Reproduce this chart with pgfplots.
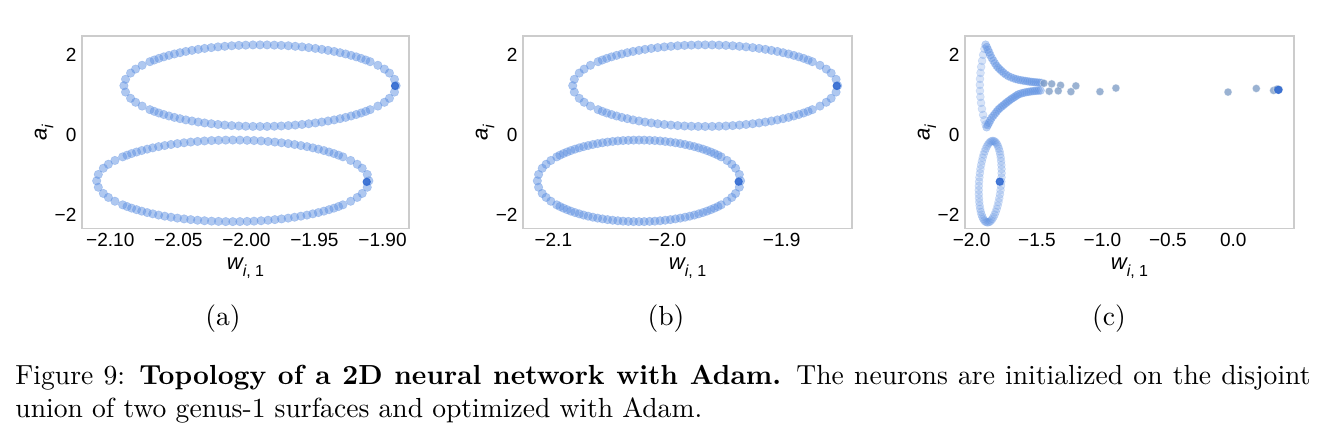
\documentclass[border=0pt]{standalone}
\usepackage{fontspec}
\usepackage{pgfplots}
\pgfplotsset{compat=1.18}
\usetikzlibrary{calc}
\newfontfamily\arial{Liberation Sans}
\definecolor{ringblue}{RGB}{95,145,225}
\definecolor{hiblue}{RGB}{55,110,210}
\definecolor{tailblue}{RGB}{120,152,195}
\newcommand{\wlab}{{\arial\fontsize{8}{9}\selectfont\itshape w\raisebox{-0.3em}{\fontsize{5.8}{6}\selectfont i\upshape, 1}}}
\newcommand{\alab}{{\arial\fontsize{8}{9}\selectfont\itshape a\raisebox{-0.3em}{\fontsize{5.8}{6}\selectfont i}}}
\pgfplotsset{
 panel/.style={
  scale only axis, height=69.9pt, anchor=north west,
  ymin=-2.35, ymax=2.475,
  ytick={-2,0,2}, yticklabels={−2,0,2},
  major tick length=0pt,
  axis line style={draw=black!20, line width=0.45pt},
  tick label style={font=\arial\fontsize{6.9}{8}\selectfont, inner sep=0pt},
  xticklabel style={anchor=north, yshift=-1.4pt},
  yticklabel style={anchor=east, xshift=-1.8pt},
  xlabel={\wlab}, ylabel={\alab},
  xlabel style={at={($(axis description cs:0.5,0)+(0,-10.3pt)$)}, anchor=north, inner sep=0pt},
  ylabel style={at={($(axis description cs:0,0.5)+(-12.8pt,0)$)}, anchor=base, inner sep=0pt},
 },
 ring/.style={only marks, mark=*, mark size=1.55pt, mark options={fill=ringblue, fill opacity=0.5, draw=ringblue, draw opacity=0.35, line width=0.2pt}},
 ringlight/.style={only marks, mark=*, mark size=1.45pt, mark options={fill=ringblue, fill opacity=0.25, draw=ringblue, draw opacity=0.2, line width=0.2pt}},
 ringmid/.style={only marks, mark=*, mark size=1.45pt, mark options={fill=ringblue, fill opacity=0.4, draw=ringblue, draw opacity=0.3, line width=0.2pt}},
 tail/.style={only marks, mark=*, mark size=1.45pt, mark options={fill=tailblue, fill opacity=0.75, draw=white, draw opacity=0.5, line width=0.2pt}},
 hi/.style={only marks, mark=*, mark size=1.3pt, mark options={fill=hiblue, draw=hiblue, fill opacity=0.9, draw opacity=0.9}},
}
\begin{document}
\begin{tikzpicture}
\path[use as bounding box] (0,0) rectangle (481.5pt,-156.5pt);

% ---------------- (a)
\begin{axis}[panel, at={(29.7pt,-13pt)}, width=118.5pt,
  xmin=-2.1208, xmax=-1.8805,
  xtick={-2.10,-2.05,-2.00,-1.95,-1.90}, xticklabels={−2.10,−2.05,−2.00,−1.95,−1.90}]
\addplot[ring] coordinates {
(-1.8900,1.230) (-2.0900,1.230)
(-1.8912,1.390) (-2.0888,1.390) (-2.0888,1.070) (-1.8912,1.070)
(-1.8949,1.545) (-2.0851,1.545) (-2.0851,0.915) (-1.8949,0.915)
(-1.8986,1.645) (-2.0814,1.645) (-2.0814,0.815) (-1.8986,0.815)
(-1.9034,1.740) (-2.0766,1.740) (-2.0766,0.720) (-1.9034,0.720)
(-1.9091,1.830) (-2.0709,1.830) (-2.0709,0.630) (-1.9091,0.630)
(-1.9123,1.872) (-2.0677,1.872) (-2.0677,0.588) (-1.9123,0.588)
(-1.9157,1.913) (-2.0643,1.913) (-2.0643,0.547) (-1.9157,0.547)
(-1.9193,1.951) (-2.0607,1.951) (-2.0607,0.509) (-1.9193,0.509)
(-1.9231,1.988) (-2.0569,1.988) (-2.0569,0.472) (-1.9231,0.472)
(-1.9271,2.023) (-2.0529,2.023) (-2.0529,0.437) (-1.9271,0.437)
(-1.9312,2.055) (-2.0488,2.055) (-2.0488,0.405) (-1.9312,0.405)
(-1.9355,2.086) (-2.0445,2.086) (-2.0445,0.374) (-1.9355,0.374)
(-1.9400,2.113) (-2.0400,2.113) (-2.0400,0.347) (-1.9400,0.347)
(-1.9446,2.139) (-2.0354,2.139) (-2.0354,0.321) (-1.9446,0.321)
(-1.9493,2.162) (-2.0307,2.162) (-2.0307,0.298) (-1.9493,0.298)
(-1.9542,2.182) (-2.0258,2.182) (-2.0258,0.278) (-1.9542,0.278)
(-1.9591,2.200) (-2.0209,2.200) (-2.0209,0.260) (-1.9591,0.260)
(-1.9641,2.215) (-2.0159,2.215) (-2.0159,0.245) (-1.9641,0.245)
(-1.9692,2.228) (-2.0108,2.228) (-2.0108,0.232) (-1.9692,0.232)
(-1.9744,2.238) (-2.0056,2.238) (-2.0056,0.222) (-1.9744,0.222)
(-1.9795,2.244) (-2.0005,2.244) (-2.0005,0.216) (-1.9795,0.216)
(-1.9848,2.249) (-1.9952,2.249) (-1.9952,0.211) (-1.9848,0.211)
(-1.9900,2.250) (-1.9900,0.210)
};
\addplot[ring] coordinates {
(-1.9100,-1.150) (-2.1100,-1.150)
(-1.9112,-0.990) (-2.1088,-0.990) (-2.1088,-1.310) (-1.9112,-1.310)
(-1.9149,-0.835) (-2.1051,-0.835) (-2.1051,-1.465) (-1.9149,-1.465)
(-1.9186,-0.735) (-2.1014,-0.735) (-2.1014,-1.565) (-1.9186,-1.565)
(-1.9234,-0.640) (-2.0966,-0.640) (-2.0966,-1.660) (-1.9234,-1.660)
(-1.9291,-0.550) (-2.0909,-0.550) (-2.0909,-1.750) (-1.9291,-1.750)
(-1.9323,-0.508) (-2.0877,-0.508) (-2.0877,-1.792) (-1.9323,-1.792)
(-1.9357,-0.467) (-2.0843,-0.467) (-2.0843,-1.833) (-1.9357,-1.833)
(-1.9393,-0.429) (-2.0807,-0.429) (-2.0807,-1.871) (-1.9393,-1.871)
(-1.9431,-0.392) (-2.0769,-0.392) (-2.0769,-1.908) (-1.9431,-1.908)
(-1.9471,-0.357) (-2.0729,-0.357) (-2.0729,-1.943) (-1.9471,-1.943)
(-1.9512,-0.325) (-2.0688,-0.325) (-2.0688,-1.975) (-1.9512,-1.975)
(-1.9555,-0.294) (-2.0645,-0.294) (-2.0645,-2.006) (-1.9555,-2.006)
(-1.9600,-0.267) (-2.0600,-0.267) (-2.0600,-2.033) (-1.9600,-2.033)
(-1.9646,-0.241) (-2.0554,-0.241) (-2.0554,-2.059) (-1.9646,-2.059)
(-1.9693,-0.218) (-2.0507,-0.218) (-2.0507,-2.082) (-1.9693,-2.082)
(-1.9742,-0.198) (-2.0458,-0.198) (-2.0458,-2.102) (-1.9742,-2.102)
(-1.9791,-0.180) (-2.0409,-0.180) (-2.0409,-2.120) (-1.9791,-2.120)
(-1.9841,-0.165) (-2.0359,-0.165) (-2.0359,-2.135) (-1.9841,-2.135)
(-1.9892,-0.152) (-2.0308,-0.152) (-2.0308,-2.148) (-1.9892,-2.148)
(-1.9944,-0.142) (-2.0256,-0.142) (-2.0256,-2.158) (-1.9944,-2.158)
(-1.9995,-0.136) (-2.0205,-0.136) (-2.0205,-2.164) (-1.9995,-2.164)
(-2.0048,-0.131) (-2.0152,-0.131) (-2.0152,-2.169) (-2.0048,-2.169)
(-2.0100,-0.130) (-2.0100,-2.170)
};
\addplot[hi] coordinates {(-1.8908,1.225) (-1.9116,-1.175)};
\end{axis}

% ---------------- (b)
\begin{axis}[panel, at={(189.5pt,-13pt)}, width=119.2pt,
  xmin=-2.1265, xmax=-1.8384,
  xtick={-2.1,-2.0,-1.9}, xticklabels={−2.1,−2.0,−1.9}]
\addplot[ring] coordinates {
(-1.8510,1.230) (-2.0830,1.230)
(-1.8524,1.390) (-2.0816,1.390) (-2.0816,1.070) (-1.8524,1.070)
(-1.8567,1.545) (-2.0773,1.545) (-2.0773,0.915) (-1.8567,0.915)
(-1.8610,1.645) (-2.0730,1.645) (-2.0730,0.815) (-1.8610,0.815)
(-1.8665,1.740) (-2.0675,1.740) (-2.0675,0.720) (-1.8665,0.720)
(-1.8732,1.830) (-2.0608,1.830) (-2.0608,0.630) (-1.8732,0.630)
(-1.8769,1.872) (-2.0571,1.872) (-2.0571,0.588) (-1.8769,0.588)
(-1.8808,1.913) (-2.0532,1.913) (-2.0532,0.547) (-1.8808,0.547)
(-1.8850,1.951) (-2.0490,1.951) (-2.0490,0.509) (-1.8850,0.509)
(-1.8894,1.988) (-2.0446,1.988) (-2.0446,0.472) (-1.8894,0.472)
(-1.8940,2.023) (-2.0400,2.023) (-2.0400,0.437) (-1.8940,0.437)
(-1.8988,2.055) (-2.0352,2.055) (-2.0352,0.405) (-1.8988,0.405)
(-1.9038,2.086) (-2.0302,2.086) (-2.0302,0.374) (-1.9038,0.374)
(-1.9090,2.113) (-2.0250,2.113) (-2.0250,0.347) (-1.9090,0.347)
(-1.9143,2.139) (-2.0197,2.139) (-2.0197,0.321) (-1.9143,0.321)
(-1.9198,2.162) (-2.0142,2.162) (-2.0142,0.298) (-1.9198,0.298)
(-1.9254,2.182) (-2.0086,2.182) (-2.0086,0.278) (-1.9254,0.278)
(-1.9312,2.200) (-2.0028,2.200) (-2.0028,0.260) (-1.9312,0.260)
(-1.9370,2.215) (-1.9970,2.215) (-1.9970,0.245) (-1.9370,0.245)
(-1.9429,2.228) (-1.9911,2.228) (-1.9911,0.232) (-1.9429,0.232)
(-1.9489,2.238) (-1.9851,2.238) (-1.9851,0.222) (-1.9489,0.222)
(-1.9549,2.244) (-1.9791,2.244) (-1.9791,0.216) (-1.9549,0.216)
(-1.9609,2.249) (-1.9731,2.249) (-1.9731,0.211) (-1.9609,0.211)
(-1.9670,2.250) (-1.9670,0.210)
};
\addplot[ring] coordinates {
(-1.9360,-1.150) (-2.1140,-1.150)
(-1.9371,-0.990) (-2.1129,-0.990) (-2.1129,-1.310) (-1.9371,-1.310)
(-1.9404,-0.835) (-2.1097,-0.835) (-2.1097,-1.465) (-1.9404,-1.465)
(-1.9437,-0.735) (-2.1063,-0.735) (-2.1063,-1.565) (-1.9437,-1.565)
(-1.9479,-0.640) (-2.1021,-0.640) (-2.1021,-1.660) (-1.9479,-1.660)
(-1.9530,-0.550) (-2.0970,-0.550) (-2.0970,-1.750) (-1.9530,-1.750)
(-1.9558,-0.508) (-2.0942,-0.508) (-2.0942,-1.792) (-1.9558,-1.792)
(-1.9589,-0.467) (-2.0911,-0.467) (-2.0911,-1.833) (-1.9589,-1.833)
(-1.9621,-0.429) (-2.0879,-0.429) (-2.0879,-1.871) (-1.9621,-1.871)
(-1.9655,-0.392) (-2.0846,-0.392) (-2.0846,-1.908) (-1.9655,-1.908)
(-1.9690,-0.357) (-2.0810,-0.357) (-2.0810,-1.943) (-1.9690,-1.943)
(-1.9727,-0.325) (-2.0773,-0.325) (-2.0773,-1.975) (-1.9727,-1.975)
(-1.9765,-0.294) (-2.0735,-0.294) (-2.0735,-2.006) (-1.9765,-2.006)
(-1.9805,-0.267) (-2.0695,-0.267) (-2.0695,-2.033) (-1.9805,-2.033)
(-1.9846,-0.241) (-2.0654,-0.241) (-2.0654,-2.059) (-1.9846,-2.059)
(-1.9888,-0.218) (-2.0612,-0.218) (-2.0612,-2.082) (-1.9888,-2.082)
(-1.9931,-0.198) (-2.0569,-0.198) (-2.0569,-2.102) (-1.9931,-2.102)
(-1.9975,-0.180) (-2.0525,-0.180) (-2.0525,-2.120) (-1.9975,-2.120)
(-2.0020,-0.165) (-2.0480,-0.165) (-2.0480,-2.135) (-2.0020,-2.135)
(-2.0065,-0.152) (-2.0435,-0.152) (-2.0435,-2.148) (-2.0065,-2.148)
(-2.0111,-0.142) (-2.0389,-0.142) (-2.0389,-2.158) (-2.0111,-2.158)
(-2.0157,-0.136) (-2.0343,-0.136) (-2.0343,-2.164) (-2.0157,-2.164)
(-2.0204,-0.131) (-2.0297,-0.131) (-2.0297,-2.169) (-2.0204,-2.169)
(-2.0250,-0.130) (-2.0250,-2.170)
};
\addplot[hi] coordinates {(-1.8518,1.225) (-1.9377,-1.170)};
\end{axis}

% ---------------- (c)
\begin{axis}[panel, at={(349.6pt,-13pt)}, width=119.2pt,
  xmin=-2.051, xmax=0.464,
  xtick={-2,-1.5,-1,-0.5,0}, xticklabels={−2.0,−1.5,−1.0,−0.5,0.0}]
% lower ellipse
\addplot[ringlight] coordinates {
(-1.7730,-1.170) (-1.9430,-1.170)
(-1.7714,-1.063) (-1.9404,-1.063) (-1.9446,-1.277) (-1.7756,-1.277)
(-1.7707,-0.958) (-1.9369,-0.958) (-1.9453,-1.382) (-1.7791,-1.382)
(-1.7710,-0.855) (-1.9326,-0.855) (-1.9450,-1.485) (-1.7834,-1.485)
(-1.7723,-0.755) (-1.9275,-0.755) (-1.9437,-1.585) (-1.7885,-1.585)
(-1.7744,-0.660) (-1.9216,-0.660) (-1.9416,-1.680) (-1.7944,-1.680)
(-1.7774,-0.570) (-1.9150,-0.570) (-1.9386,-1.770) (-1.8010,-1.770)
(-1.7814,-0.488) (-1.9078,-0.488) (-1.9346,-1.853) (-1.8082,-1.853)
(-1.7862,-0.412) (-1.9000,-0.412) (-1.9298,-1.928) (-1.8160,-1.928)
(-1.7918,-0.345) (-1.8918,-0.345) (-1.9242,-1.995) (-1.8242,-1.995)
(-1.7982,-0.287) (-1.8832,-0.287) (-1.9178,-2.053) (-1.8328,-2.053)
(-1.8051,-0.238) (-1.8743,-0.238) (-1.9109,-2.102) (-1.8417,-2.102)
(-1.8127,-0.200) (-1.8653,-0.200) (-1.9033,-2.140) (-1.8507,-2.140)
(-1.8207,-0.172) (-1.8561,-0.172) (-1.8953,-2.168) (-1.8599,-2.168)
(-1.8292,-0.156) (-1.8470,-0.156) (-1.8867,-2.184) (-1.8690,-2.184)
(-1.8380,-0.150) (-1.8780,-2.190)
};
% horn: left side
\addplot[ringlight] coordinates {
(-1.902,2.150) (-1.912,2.000) (-1.920,1.850) (-1.927,1.700) (-1.932,1.550)
(-1.936,1.400) (-1.937,1.250) (-1.936,1.100) (-1.933,0.950) (-1.928,0.800)
(-1.921,0.650) (-1.912,0.500) (-1.902,0.370) (-1.893,0.260)
};
% horn: upper branch
\addplot[ringmid] coordinates {
(-1.465,1.300) (-1.480,1.305) (-1.495,1.309) (-1.510,1.314) (-1.525,1.319)
(-1.541,1.325) (-1.557,1.332) (-1.573,1.340) (-1.590,1.349) (-1.607,1.358)
(-1.625,1.368) (-1.644,1.380) (-1.662,1.396) (-1.680,1.415) (-1.700,1.440)
(-1.720,1.470) (-1.738,1.508) (-1.755,1.550) (-1.770,1.595) (-1.784,1.638)
(-1.797,1.680) (-1.810,1.730) (-1.822,1.790) (-1.834,1.855) (-1.847,1.925)
(-1.857,1.995) (-1.866,2.065) (-1.875,2.130) (-1.884,2.195) (-1.893,2.255)
};
% horn: lower branch
\addplot[ringmid] coordinates {
(-1.885,0.190) (-1.876,0.245) (-1.867,0.300) (-1.857,0.362) (-1.847,0.425)
(-1.834,0.478) (-1.821,0.530) (-1.809,0.580) (-1.797,0.630) (-1.784,0.668)
(-1.771,0.705) (-1.758,0.740) (-1.745,0.775) (-1.733,0.808) (-1.720,0.840)
(-1.707,0.872) (-1.694,0.903) (-1.681,0.930) (-1.668,0.957) (-1.656,0.985)
(-1.644,1.010) (-1.628,1.028) (-1.612,1.045) (-1.596,1.058) (-1.580,1.068)
(-1.564,1.077) (-1.549,1.085) (-1.533,1.092) (-1.518,1.098) (-1.503,1.102)
(-1.488,1.106) (-1.473,1.109)
};
% escaped neurons
\addplot[tail] coordinates {
(-1.447,1.290) (-1.388,1.275) (-1.320,1.240) (-1.203,1.225) (-0.897,1.170)
(-1.407,1.090) (-1.338,1.100) (-1.241,1.080) (-1.019,1.080) (-0.040,1.070)
(0.176,1.160) (0.308,1.110) (0.335,1.145) (0.350,1.135)
};
\addplot[hi] coordinates {(-1.785,-1.170) (0.345,1.125)};
\end{axis}

\node[anchor=base, inner sep=0pt, font=\fontsize{10}{12}\selectfont] at (80.8pt,-117.9pt) {(a)};
\node[anchor=base, inner sep=0pt, font=\fontsize{10}{12}\selectfont] at (241.3pt,-117.9pt) {(b)};
\node[anchor=base, inner sep=0pt, font=\fontsize{10}{12}\selectfont] at (401.8pt,-117.9pt) {(c)};

\node[anchor=north west, inner sep=0pt, text width=469.2pt, align=justify, font=\fontsize{10}{12}\selectfont] at (5.4pt,-132.2pt)
{\noindent Figure 9: \textbf{Topology of a 2D neural network with Adam.} The neurons are initialized on the disjoint\linebreak union of two genus-1 surfaces and optimized with Adam.};
\end{tikzpicture}
\end{document}
